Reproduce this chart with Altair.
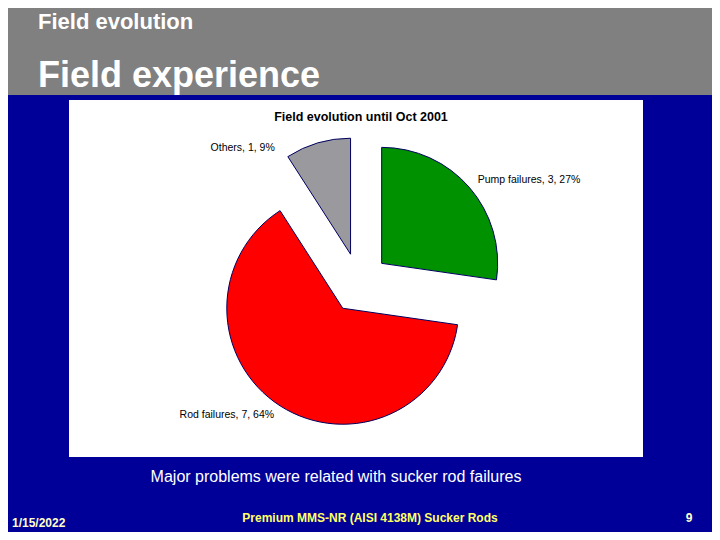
import math
import altair as alt
import pandas as pd

# ---- data ----
categories = ["Pump failures", "Rod failures", "Others"]
counts = [3, 7, 1]
percents = [27, 64, 9]
slice_colors = ["#009100", "#FF0000", "#9A9A9E"]

slide_header = "Field evolution"
slide_title = "Field experience"
chart_title = "Field evolution until Oct 2001"
caption = "Major problems were related with sucker rod failures"
footer_date = "1/15/2022"
footer_center = "Premium MMS-NR (AISI 4138M) Sucker Rods"
footer_page = "9"

# ---- layout / style ----
W, H = 704, 524
OFF = 8


def px(v):
    return v - OFF


FONT = "Liberation Sans"
CX, CY = px(359), px(283)
R = 116
EXPLODE = 30
LABEL_R = 157
label_nudge = {"Others": (-40, 16)}
label_align = {"Pump failures": "left", "Rod failures": "right", "Others": "right"}

total = sum(counts)
df = pd.DataFrame({"category": categories, "count": counts, "pct": percents, "color": slice_colors})
df["end"] = df["count"].cumsum() / total
df["start"] = df["end"] - df["count"] / total
df["mid"] = (df["start"] + df["end"]) / 2
df["label"] = df["category"] + ", " + df["count"].astype(str) + ", " + df["pct"].astype(str) + "%"

theta_scale = alt.Scale(domain=[0, 1], range=[0, 2 * math.pi])

layers = []


def rect(x1, y1, x2, y2, color):
    return alt.Chart(pd.DataFrame({"a": [0]})).mark_rect(color=color).encode(
        x=alt.value(x1), x2=alt.value(x2), y=alt.value(y1), y2=alt.value(y2)
    )


def text(t, x, y, size, color, weight="normal", align="left", baseline="alphabetic"):
    return alt.Chart(pd.DataFrame({"t": [t]})).mark_text(
        font=FONT, fontSize=size, color=color, fontWeight=weight, align=align, baseline=baseline
    ).encode(text="t:N", x=alt.value(x), y=alt.value(y))


layers.append(rect(0, 0, W, px(95), "#808080"))
layers.append(rect(px(69), px(100), px(643), px(457), "#FFFFFF"))

layers.append(text(slide_header, px(38), px(29), 22, "#FFFFFF", weight="bold"))
layers.append(text(slide_title, px(38), px(87), 36, "#FFFFFF", weight="bold"))
layers.append(text(chart_title, px(361), px(121), 12.5, "#000000", weight="bold", align="center"))

for _, row in df.iterrows():
    a = row["mid"] * 2 * math.pi
    dx = EXPLODE * math.sin(a)
    dy = -EXPLODE * math.cos(a)
    layers.append(
        alt.Chart(df)
        .transform_filter(alt.datum.category == row["category"])
        .mark_arc(outerRadius=R, stroke="#000060", strokeWidth=1)
        .encode(
            theta=alt.Theta("start:Q", scale=theta_scale, stack=None),
            theta2="end:Q",
            color=alt.Color("color:N", scale=None),
            x=alt.value(CX + dx),
            y=alt.value(CY + dy),
        )
    )
    ndx, ndy = label_nudge.get(row["category"], (0, 0))
    layers.append(
        alt.Chart(df)
        .transform_filter(alt.datum.category == row["category"])
        .mark_text(
            radius=LABEL_R, font=FONT, fontSize=10.5, color="#000000",
            align=label_align[row["category"]], baseline="middle", dx=ndx, dy=ndy,
        )
        .encode(
            theta=alt.Theta("mid:Q", scale=theta_scale, stack=None),
            text="label:N",
            x=alt.value(CX),
            y=alt.value(CY),
        )
    )

layers.append(text(caption, px(336), px(482), 16, "#FFFFFF", align="center"))
layers.append(text(footer_date, px(12), px(527), 12, "#FFFFCC", weight="bold"))
layers.append(text(footer_center, px(370), px(522), 12, "#FFFF66", weight="bold", align="center"))
layers.append(text(footer_page, px(689), px(522), 12, "#FFFFCC", weight="bold", align="center"))

chart = (
    alt.layer(*layers)
    .properties(width=W, height=H, background="#000099", padding=0, autosize="none")
    .configure_view(stroke=None)
)

chart.save("out.html", embed_options={"renderer": "svg", "actions": False})
